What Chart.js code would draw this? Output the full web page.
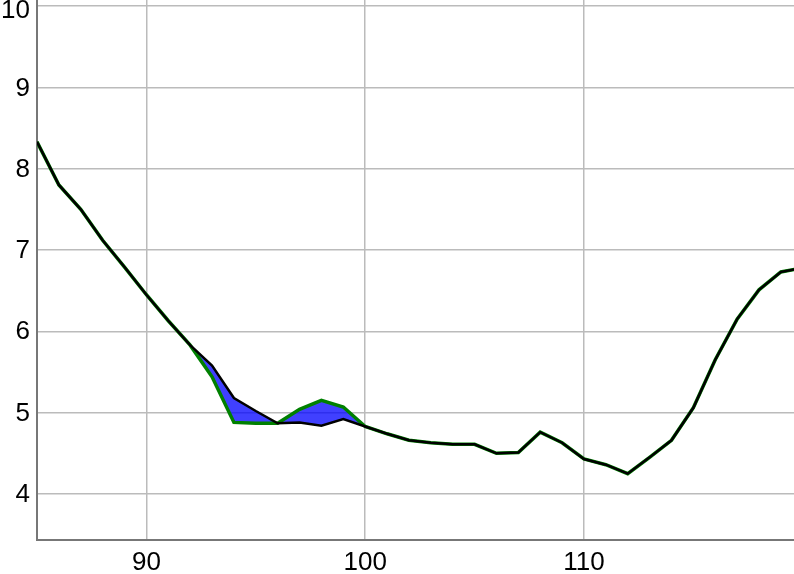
<!DOCTYPE html>
<html>
<head>
<meta charset="utf-8">
<script src="https://cdn.jsdelivr.net/npm/chart.js@4.4.1/dist/chart.umd.min.js"></script>
<style>
    html, body { margin: 0; padding: 0; background: #fff; }
    #chart-container { width: 794px; height: 574px; }
</style>
</head>
<body>
<div id="chart-container"><canvas id="lineChart"></canvas></div>
<script>
const xValues = [85, 86, 87, 88, 89, 90, 91, 92, 93, 94, 95, 96, 97, 98, 99, 100, 101, 102,
    103, 104, 105, 106, 107, 108, 109, 110, 111, 112, 113, 114, 115, 116, 117, 118, 119, 120];
const blackValues = [8.33, 7.80, 7.50, 7.12, 6.79, 6.45, 6.13, 5.83, 5.58, 5.18, 5.02, 4.87,
    4.88, 4.84, 4.92, 4.83, 4.74, 4.66, 4.63, 4.61, 4.61, 4.50, 4.51, 4.76, 4.63, 4.43,
    4.36, 4.25, 4.45, 4.66, 5.06, 5.65, 6.15, 6.51, 6.73, 6.78];
const greenValues = [8.33, 7.80, 7.50, 7.12, 6.79, 6.45, 6.13, 5.83, 5.44, 4.88, 4.87, 4.87,
    5.04, 5.15, 5.07, 4.83, 4.74, 4.66, 4.63, 4.61, 4.61, 4.50, 4.51, 4.76, 4.63, 4.43,
    4.36, 4.25, 4.45, 4.66, 5.06, 5.65, 6.15, 6.51, 6.73, 6.78];
const xTicks = [90, 100, 110];
const yTicks = [4, 5, 6, 7, 8, 9, 10];
const yTop = 10;

function toPoints(values) {
    return values.map((v, i) => ({ x: xValues[i], y: v }));
}

const ctx = document.getElementById("lineChart").getContext("2d");

new Chart(ctx, {
    type: "line",
    data: {
        datasets: [{
            label: "black",
            data: toPoints(blackValues),
            borderColor: "#000000",
            borderWidth: 2.5,
            pointRadius: 0,
            tension: 0,
            fill: false
        }, {
            label: "green",
            data: toPoints(greenValues),
            borderColor: "#008000",
            borderWidth: 3.5,
            backgroundColor: "rgba(0, 0, 255, 0.75)",
            pointRadius: 0,
            tension: 0,
            fill: "-1"
        }]
    },
    options: {
        responsive: true,
        maintainAspectRatio: false,
        animation: false,
        layout: { padding: 0 },
        plugins: {
            legend: { display: false },
            tooltip: { enabled: false }
        },
        scales: {
            x: {
                type: "linear",
                min: 85,
                max: 119.6,
                afterBuildTicks: scale => { scale.ticks = xTicks.map(v => ({ value: v })); },
                afterFit: scale => { scale.height = 34; scale.paddingLeft = 0; scale.paddingRight = 0; },
                grid: { color: "#bbbbbb", lineWidth: 1.5, drawTicks: false },
                border: { color: "#777777", width: 2 },
                ticks: {
                    color: "#000000",
                    padding: 7,
                    maxRotation: 0,
                    font: { family: "Liberation Sans", size: 26 }
                }
            },
            y: {
                min: 3.434,
                max: 10.074,
                afterBuildTicks: scale => { scale.ticks = yTicks.map(v => ({ value: v })); },
                afterFit: scale => { scale.width = 37; scale.paddingTop = 0; scale.paddingBottom = 0; },
                grid: { color: "#bbbbbb", lineWidth: 1.5, drawTicks: false },
                border: { color: "#777777", width: 2 },
                ticks: {
                    color: "#000000",
                    padding: 7,
                    labelOffset: 1,
                    // push the top label down a little so it stays on the canvas
                    callback: value => value === yTop ? ["", String(value)] : String(value),
                    font: c => ({
                        family: "Liberation Sans",
                        size: 26,
                        lineHeight: c.tick && c.tick.value === yTop ? "7px" : 1.2
                    })
                }
            }
        }
    }
});
</script>
</body>
</html>
